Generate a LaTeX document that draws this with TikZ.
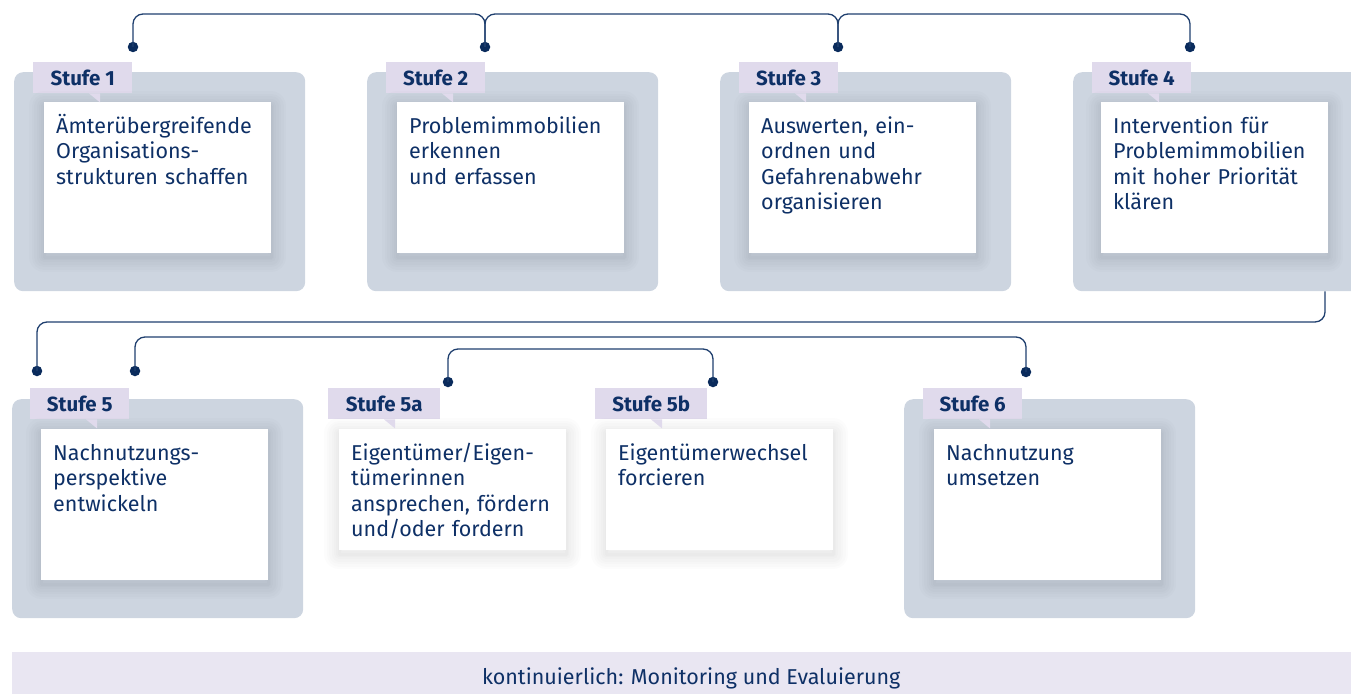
\documentclass[tikz,border=0pt]{standalone}
\usepackage{fontspec}
\setmainfont{Fira Sans}
\usetikzlibrary{positioning}

\definecolor{stagegray}{RGB}{205,213,224}
\definecolor{taglilac}{RGB}{224,218,236}
\definecolor{barlilac}{RGB}{233,230,242}
\definecolor{navy}{RGB}{14,48,102}
\definecolor{linkblue}{RGB}{31,63,110}
\definecolor{dotblue}{RGB}{10,43,92}

\tikzstyle{stage} = [fill=stagegray, rounded corners=9pt, minimum width=291pt,
    minimum height=219pt, anchor=north west, inner sep=0pt]
\tikzstyle{card} = [fill=white, minimum width=227pt, minimum height=151pt,
    anchor=north west, inner sep=0pt, softshadow]
\tikzstyle{tag} = [fill=taglilac, text=navy, font=\fontsize{20.5}{22}\selectfont\bfseries,
    minimum width=99pt, minimum height=31pt, anchor=north west, inner sep=0pt]
\tikzstyle{desc} = [text=navy, font=\fontsize{21.5}{25.5}\selectfont, text width=215pt,
    align=left, inner sep=0pt, anchor=base west]
\tikzstyle{dot} = [circle, fill=dotblue, inner sep=0pt, minimum size=10.5pt]
\tikzset{
  link/.style ={draw=linkblue, line width=1.3pt, rounded corners=10pt},
  shadowring/.style={preaction={draw=black, draw opacity=0.011, line width=#1, line join=round,
      transform canvas={yshift=-4pt}}},
  % soft shadow: faint strokes of falling width round the border, moved down a little
  softshadow/.style={shadowring=30pt, shadowring=25pt, shadowring=20pt, shadowring=15pt,
      shadowring=10pt, shadowring=6pt, shadowring=3pt}
}

\begin{document}
\begin{tikzpicture}[x=1pt,y=-1pt]
  \useasboundingbox (0,0) rectangle (1351,693);

  % stages in the upper row
  \node[stage] (g1) at (14,72) {};
  \node[stage] (g2) at (367,72) {};
  \node[stage] (g3) at (720,72) {};
  \node[stage] (g4) at (1073,72) {};
  % stages in the lower row
  \node[stage] (g5) at (12,399) {};
  \node[stage] (g6) at (904,399) {};

  \node[tag] (s1) at ([shift={(19,-10)}]g1.north west) {Stufe 1};
  \node[tag] (s2) at ([shift={(19,-10)}]g2.north west) {Stufe 2};
  \node[tag] (s3) at ([shift={(19,-10)}]g3.north west) {Stufe 3};
  \node[tag] (s4) at ([shift={(19,-10)}]g4.north west) {Stufe 4};
  \node[tag] (s5) at ([shift={(18,-11)}]g5.north west) {Stufe 5};
  \node[tag, minimum width=112pt] (s5a) at (328,388) {Stufe 5a};
  \node[tag, minimum width=112pt] (s5b) at (595,388) {Stufe 5b};
  \node[tag] (s6) at ([shift={(19,-11)}]g6.north west) {Stufe 6};

  \node[card] (c1) at ([shift={(30,30)}]g1.north west) {};
  \node[card] (c2) at ([shift={(30,30)}]g2.north west) {};
  \node[card] (c3) at ([shift={(29,30)}]g3.north west) {};
  \node[card] (c4) at ([shift={(28,30)}]g4.north west) {};
  \node[card] (c5) at ([shift={(29,30)}]g5.north west) {};
  \node[card, minimum height=121pt] (c5a) at (339,429) {};
  \node[card, minimum height=121pt] (c5b) at (606,429) {};
  \node[card] (c6) at ([shift={(30,30)}]g6.north west) {};

  % little pointers under the tags
  \fill[taglilac] ([xshift=56pt]s1.south west) -- ([xshift=67pt]s1.south west) -- ++(0,9) -- cycle;
  \fill[taglilac] ([xshift=56pt]s2.south west) -- ([xshift=67pt]s2.south west) -- ++(0,9) -- cycle;
  \fill[taglilac] ([xshift=56pt]s3.south west) -- ([xshift=67pt]s3.south west) -- ++(0,9) -- cycle;
  \fill[taglilac] ([xshift=56pt]s4.south west) -- ([xshift=67pt]s4.south west) -- ++(0,9) -- cycle;
  \fill[taglilac] ([xshift=56pt]s5.south west) -- ([xshift=67pt]s5.south west) -- ++(0,9) -- cycle;
  \fill[taglilac] ([xshift=56pt]s5a.south west) -- ([xshift=67pt]s5a.south west) -- ++(0,9) -- cycle;
  \fill[taglilac] ([xshift=56pt]s5b.south west) -- ([xshift=67pt]s5b.south west) -- ++(0,9) -- cycle;
  \fill[taglilac] ([xshift=56pt]s6.south west) -- ([xshift=67pt]s6.south west) -- ++(0,9) -- cycle;

  \node[desc] (t1) at ([shift={(12,31)}]c1.north west) {Ämterübergreifende\\Organisations-\\strukturen schaffen};
  \node[desc] (t2) at ([shift={(12,31)}]c2.north west) {Problemimmobilien\\erkennen\\und erfassen};
  \node[desc] (t3) at ([shift={(12,31)}]c3.north west) {Auswerten, ein-\\ordnen und\\Gefahrenabwehr\\organisieren};
  \node[desc] (t4) at ([shift={(12,31)}]c4.north west) {Intervention für\\Problemimmobilien\\mit hoher Priorität\\klären};
  \node[desc] (t5) at ([shift={(12,31)}]c5.north west) {Nachnutzungs-\\perspektive\\entwickeln};
  \node[desc] (t5a) at ([shift={(12,31)}]c5a.north west) {Eigentümer/Eigen-\\tümerinnen\\ansprechen, fördern\\und/oder fordern};
  \node[desc] (t5b) at ([shift={(12,31)}]c5b.north west) {Eigentümerwechsel\\forcieren};
  \node[desc] (t6) at ([shift={(12,31)}]c6.north west) {Nachnutzung\\umsetzen};

  % connector dots
  \node[dot] (d1) at (133,47) {};
  \node[dot] (d2) at (485,47) {};
  \node[dot] (d3) at (838,47) {};
  \node[dot] (d4) at (1190,47) {};
  \node[dot] (d5in) at (37,371) {};
  \node[dot] (d5out) at (135,371) {};
  \node[dot] (d5a) at (448,382) {};
  \node[dot] (d5b) at (713,382) {};
  \node[dot] (d6) at (1026,372) {};

  \coordinate (railtop) at (0,14);
  \coordinate (rail4) at (0,322);
  \coordinate (rail5) at (0,337);
  \coordinate (rail5ab) at (0,349);
  \coordinate (out4) at ([xshift=252pt]g4.south west);

  \path[link] (d1.center) -- (d1 |- railtop) -| (d2.center);
  \path[link] (d2.center) -- (d2 |- railtop) -| (d3.center);
  \path[link] (d3.center) -- (d3 |- railtop) -| (d4.center);
  \path[link] (out4) -- (out4 |- rail4) -| (d5in.center);
  \path[link] (d5out.center) -- (d5out |- rail5) -| (d6.center);
  \path[link] (d5a.center) -- (d5a |- rail5ab) -| (d5b.center);

  % ongoing task along the bottom
  \node[fill=barlilac, text=navy, font=\fontsize{21.5}{22}\selectfont, minimum width=1358pt,
        minimum height=52pt, anchor=north west, inner sep=0pt] (mon) at (12,652)
        {kontinuierlich: Monitoring und Evaluierung};
\end{tikzpicture}
\end{document}
